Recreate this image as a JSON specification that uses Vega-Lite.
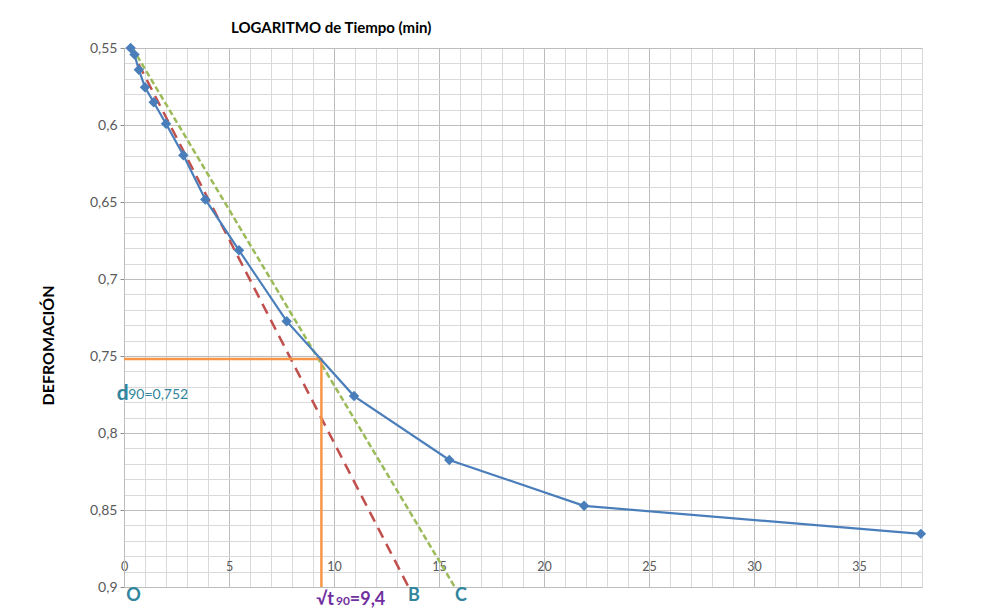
{
  "$schema": "https://vega.github.io/schema/vega-lite/v6.json",
  "autosize": {"type": "none"},
  "width": 798,
  "height": 539,
  "padding": {"left": 124, "top": 48, "right": 68, "bottom": 22},
  "background": "#ffffff",
  "config": {
    "view": {"stroke": "#d9d9d9", "strokeWidth": 1},
    "font": "Lato"
  },
  "title": {
    "text": "LOGARITMO de Tiempo (min)",
    "anchor": "start",
    "dx": 191,
    "offset": 5,
    "font": "Lato",
    "fontSize": 15,
    "fontWeight": "bold",
    "color": "#000000"
  },
  "datasets": {
    "pts": [
      {"x": 0.316, "d": 0.550},
      {"x": 0.5, "d": 0.5543},
      {"x": 0.707, "d": 0.5641},
      {"x": 1.0, "d": 0.5755},
      {"x": 1.414, "d": 0.5852},
      {"x": 2.0, "d": 0.5992},
      {"x": 2.828, "d": 0.6196},
      {"x": 3.873, "d": 0.6483},
      {"x": 5.477, "d": 0.6814},
      {"x": 7.746, "d": 0.7274},
      {"x": 10.954, "d": 0.776},
      {"x": 15.492, "d": 0.8175},
      {"x": 21.909, "d": 0.8473},
      {"x": 37.947, "d": 0.8655}
    ],
    "red": [{"x": 0.3, "d": 0.55}, {"x": 13.55, "d": 0.9}],
    "green": [{"x": 0.4, "d": 0.55}, {"x": 15.75, "d": 0.9}],
    "orange": [
      {"o": 1, "x": 0, "d": 0.752},
      {"o": 2, "x": 9.4, "d": 0.752},
      {"o": 3, "x": 9.4, "d": 0.9}
    ],
    "teal": [
      {"x": 0.45, "d": 0.9058, "t": "O"},
      {"x": 13.8, "d": 0.9058, "t": "B"},
      {"x": 16.05, "d": 0.9058, "t": "C"}
    ],
    "dbig": [{"x": -0.35, "d": 0.7749, "t": "d"}],
    "dsmall": [{"x": 0.2, "d": 0.7752, "t": "90=0,752"}],
    "tbig": [{"x": 9.15, "d": 0.9085, "t": "√t"}],
    "tsub": [{"x": 10.1, "d": 0.9088, "t": "90"}],
    "tval": [{"x": 10.75, "d": 0.9085, "t": "=9,4"}]
  },
  "layer": [
    {
      "data": {"name": "red"},
      "mark": {"type": "line", "color": "#C0504D", "strokeWidth": 2.5, "strokeDash": [11, 7]},
      "encoding": {
        "x": {
          "field": "x", "type": "quantitative",
          "scale": {"domain": [0, 38], "nice": false, "zero": false},
          "axis": {
            "title": null,
            "values": [0,1,2,3,4,5,6,7,8,9,10,11,12,13,14,15,16,17,18,19,20,21,22,23,24,25,26,27,28,29,30,31,32,33,34,35,36,37,38],
            "tickCount": 500,
            "grid": true,
            "gridColor": {"expr": "datum.value % 5 === 0 ? '#bdbdbd' : '#d9d9d9'"},
            "gridWidth": 1,
            "domain": false,
            "ticks": false,
            "labelExpr": "datum.value % 5 === 0 && datum.value < 38 ? format(datum.value, 'd') : ''",
            "labelPadding": -27,
            "labelFont": "Lato",
            "labelFontSize": 12.5,
            "labelColor": "#595959",
            "labelBaseline": "top",
            "labelOverlap": false,
            "labelFlush": false
          }
        },
        "y": {
          "field": "d", "type": "quantitative",
          "scale": {"domain": [0.55, 0.9], "nice": false, "zero": false, "reverse": true},
          "axis": {
            "title": "DEFROMACIÓN",
            "titleFont": "Lato",
            "titleFontSize": 16,
            "titleFontWeight": "bold",
            "titleColor": "#000000",
            "titleX": -76,
            "titleY": 297,
            "titleAngle": -90,
            "titleAlign": "center",
            "titleBaseline": "middle",
            "values": [0.55,0.56,0.57,0.58,0.59,0.6,0.61,0.62,0.63,0.64,0.65,0.66,0.67,0.68,0.69,0.7,0.71,0.72,0.73,0.74,0.75,0.76,0.77,0.78,0.79,0.8,0.81,0.82,0.83,0.84,0.85,0.86,0.87,0.88,0.89,0.9],
            "tickCount": 500,
            "grid": true,
            "gridColor": {"expr": "round(datum.value*100) % 5 === 0 ? '#bdbdbd' : '#d9d9d9'"},
            "domain": true,
            "domainColor": "#bdbdbd",
            "ticks": true,
            "tickSize": 4,
            "tickColor": {"expr": "round(datum.value*100) % 5 === 0 ? '#8c8c8c' : 'transparent'"},
            "labelExpr": "round(datum.value*100) % 5 === 0 ? replace(format(datum.value, '.2~f'), '.', ',') : ''",
            "labelFont": "Lato",
            "labelFontSize": 14,
            "labelColor": "#595959",
            "labelPadding": 3,
            "labelOverlap": false,
            "labelFlush": false
          }
        }
      }
    },
    {
      "data": {"name": "green"},
      "mark": {"type": "line", "color": "#9BBB59", "strokeWidth": 2.5, "strokeDash": [6, 3]},
      "encoding": {
        "x": {"field": "x", "type": "quantitative"},
        "y": {"field": "d", "type": "quantitative"}
      }
    },
    {
      "data": {"name": "orange"},
      "mark": {"type": "line", "color": "#F79646", "strokeWidth": 2.5},
      "encoding": {
        "x": {"field": "x", "type": "quantitative"},
        "y": {"field": "d", "type": "quantitative"},
        "order": {"field": "o", "type": "quantitative"}
      }
    },
    {
      "data": {"name": "pts"},
      "mark": {"type": "line", "color": "#4A7EBB", "strokeWidth": 2.2},
      "encoding": {
        "x": {"field": "x", "type": "quantitative"},
        "y": {"field": "d", "type": "quantitative"}
      }
    },
    {
      "data": {"name": "pts"},
      "mark": {"type": "point", "shape": "diamond", "filled": true, "color": "#4A7EBB", "size": 110, "opacity": 1},
      "encoding": {
        "x": {"field": "x", "type": "quantitative"},
        "y": {"field": "d", "type": "quantitative"}
      }
    },
    {
      "data": {"name": "teal"},
      "mark": {"type": "text", "color": "#31859C", "font": "Lato", "fontSize": 18, "fontWeight": "bold", "align": "center", "baseline": "middle"},
      "encoding": {
        "x": {"field": "x", "type": "quantitative"},
        "y": {"field": "d", "type": "quantitative"},
        "text": {"field": "t"}
      }
    },
    {
      "data": {"name": "dbig"},
      "mark": {"type": "text", "color": "#31859C", "font": "Lato", "fontSize": 21, "fontWeight": "bold", "align": "left", "baseline": "middle"},
      "encoding": {
        "x": {"field": "x", "type": "quantitative"},
        "y": {"field": "d", "type": "quantitative"},
        "text": {"field": "t"}
      }
    },
    {
      "data": {"name": "dsmall"},
      "mark": {"type": "text", "color": "#31859C", "font": "Lato", "fontSize": 14, "align": "left", "baseline": "middle"},
      "encoding": {
        "x": {"field": "x", "type": "quantitative"},
        "y": {"field": "d", "type": "quantitative"},
        "text": {"field": "t"}
      }
    },
    {
      "data": {"name": "tbig"},
      "mark": {"type": "text", "color": "#7030A0", "font": "Lato", "fontSize": 18, "fontWeight": "bold", "align": "left", "baseline": "middle"},
      "encoding": {
        "x": {"field": "x", "type": "quantitative"},
        "y": {"field": "d", "type": "quantitative"},
        "text": {"field": "t"}
      }
    },
    {
      "data": {"name": "tsub"},
      "mark": {"type": "text", "color": "#7030A0", "font": "Lato", "fontSize": 12, "fontWeight": "bold", "align": "left", "baseline": "middle"},
      "encoding": {
        "x": {"field": "x", "type": "quantitative"},
        "y": {"field": "d", "type": "quantitative"},
        "text": {"field": "t"}
      }
    },
    {
      "data": {"name": "tval"},
      "mark": {"type": "text", "color": "#7030A0", "font": "Lato", "fontSize": 18, "fontWeight": "bold", "align": "left", "baseline": "middle"},
      "encoding": {
        "x": {"field": "x", "type": "quantitative"},
        "y": {"field": "d", "type": "quantitative"},
        "text": {"field": "t"}
      }
    }
  ]
}
